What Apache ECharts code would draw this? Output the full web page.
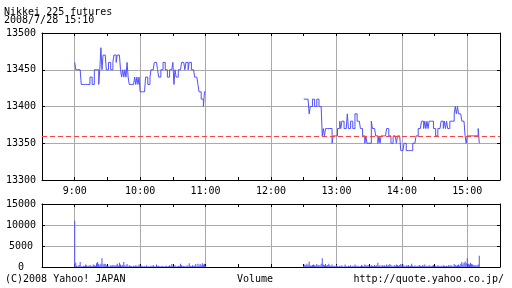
<!DOCTYPE html>
<html><head><meta charset="utf-8">
<script src="https://cdn.jsdelivr.net/npm/echarts@6/dist/echarts.min.js"></script>
<style>html,body{margin:0;padding:0;background:#fff}#c{width:512px;height:288px}</style>
</head><body><div id="c"></div>
<script>
// Minutes of day where each session's per-minute series starts
var amStart = 540;   // 9:00
var pmStart = 750;   // 12:30
var priceTicks = [13300, 13350, 13400, 13450, 13500];
var volTicks = [0, 5000, 10000, 15000];
var prevClose = 13360;

var amPrice = [13460,
 13450,13450,13450,13450,13450,
 13430,13430,13430,13430,13430,13430,13430,13430,
 13440,13440,13430,13430,
 13450,13450,13450,13450,
 13430,13450,13480,13450,
 13470,13470,13470,13450,13450,13460,13460,13450,13450,13460,
 13470,13470,13460,13470,13470,13470,
 13450,13440,13450,13440,13450,13440,13460,13440,
 13430,13430,13430,13430,13430,
 13440,13430,13440,13430,13440,
 13420,13420,13420,13420,13420,
 13440,13440,13430,13430,13440,
 13450,13450,13450,13460,13460,13460,13450,13440,13440,
 13450,13450,13460,13460,13450,13450,13440,13440,
 13450,13450,13450,13460,13430,13450,13440,13440,
 13450,13450,13450,13460,13460,13460,13450,13460,13460,13450,13460,13460,
 13450,13450,13450,13440,13440,13440,13430,13420,13420,13410,13410,13400,13420,13420];

var pmPrice = [13410,13410,13410,13410,13410,
 13390,13400,13400,13410,13410,13400,13400,13410,13410,13400,13400,13400,
 13360,13370,13360,13370,13370,13370,13370,13370,13370,
 13350,13360,13360,13360,13360,
 13370,13370,13380,13370,13380,13380,13370,13370,13370,
 13390,13370,13370,13380,13380,13370,13370,13390,13390,
 13380,13380,13380,13370,13370,13360,13360,13350,13360,
 13350,13350,13350,13350,
 13380,13370,13370,13370,13360,13360,13350,13360,13350,
 13360,13360,13360,13360,13360,13370,13370,13360,13360,
 13350,13350,13360,13360,13360,13350,13360,13360,13360,
 13340,13340,13340,13350,13350,13340,13340,13340,13340,13340,13340,
 13350,13350,13350,13360,13360,13370,13370,13370,13380,13380,
 13370,13380,13370,13380,13370,13380,13380,13380,13380,13370,13370,
 13360,13360,13370,13370,13370,13380,13380,13370,13380,13370,13380,13370,13370,
 13380,13380,13380,13380,13390,13400,13390,13400,13390,13390,13390,
 13380,13380,13380,13360,13350,
 13360,13360,13360,13360,13360,13360,13360,13360,13360,13360,13370,13350];

var amVol = [11000,1000,300,200,500,1200,200,100,300,200,600,400,200,300,500,300,200,600,400,300,
 900,1200,700,400,800,2100,600,800,700,400,300,200,100,400,300,500,400,300,500,800,
 300,1000,600,300,500,1200,400,300,700,200,400,300,200,100,300,200,400,300,200,600,
 400,300,200,100,200,100,400,100,200,100,300,200,500,200,100,600,200,300,200,100,
 300,200,100,200,300,100,200,400,200,700,300,200,400,100,200,300,200,800,400,200,
 300,200,100,400,200,900,300,200,400,200,300,700,200,800,300,700,400,900,600,800,300];

var pmVol = [300,600,400,800,500,1300,400,300,500,600,400,300,700,400,500,300,800,2100,600,400,
 700,300,500,800,400,300,600,200,300,200,500,200,100,300,200,400,100,200,600,200,
 100,300,200,400,100,300,200,600,300,200,300,100,200,500,300,200,600,400,300,500,
 200,300,400,300,200,500,300,400,1000,300,400,200,500,300,400,200,600,300,500,700,
 400,300,200,500,300,600,400,300,500,700,400,600,300,200,400,300,500,200,300,800,
 300,200,400,200,300,200,500,300,200,400,300,600,200,300,200,400,300,200,300,500,
 200,300,200,400,300,200,300,200,400,300,200,300,200,500,300,400,300,200,700,500,
 300,400,600,300,800,1200,600,1000,1300,900,2100,800,600,1000,700,600,400,500,300,400,
 600,2700];

function pairs(start, arr){ return arr.map(function(v,i){ return [start+i, v]; }); }

var FONT = 'DejaVu Sans Mono';
var BLUE = '#5050ff';
var GRID = '#aaaaaa';
var txt = {fontFamily: FONT, fontSize: 10, color: '#000', fontWeight: 'normal'};

function xAx(grid, pos, labels){
  return {
    type:'value', gridIndex:grid, position:pos, min:510, max:930, interval:30,
    axisLine:{show:true, onZero:false, lineStyle:{color:'#000', width:1}},
    axisTick:{show:true, inside:true, length:3, lineStyle:{color:'#000'}},
    axisLabel:{show:labels, margin:6, fontFamily:FONT, fontSize:10, color:'#000',
      formatter:function(v){ return v%60===0 ? (v/60)+':00' : ''; }},
    splitLine:{show:pos==='bottom', showMinLine:false, showMaxLine:false,
      lineStyle:{color:[GRID, 'rgba(0,0,0,0)'], width:1}}
  };
}
function yAx(grid, pos, min, max, interval, labels){
  return {
    type:'value', gridIndex:grid, position:pos, min:min, max:max, interval:interval,
    axisLine:{show:true, lineStyle:{color:'#000', width:1}},
    axisTick:{show:true, inside:true, length:3, lineStyle:{color:'#000'}},
    axisLabel:{show:labels, margin:21, align:'center', fontFamily:FONT, fontSize:10, color:'#000',
      formatter:function(v){ return String(v); }},
    splitLine:{show:pos==='left', showMinLine:false, showMaxLine:false, lineStyle:{color:GRID, width:1}}
  };
}

var chart = echarts.init(document.getElementById('c'), null, {renderer:'canvas'});
chart.setOption({
  animation:false,
  backgroundColor:'#fff',
  title:[
    {text:'Nikkei 225 futures', left:4, top:7, padding:0, textStyle:txt},
    {text:'2008/7/28 15:10', left:4, top:15.5, padding:0, textStyle:txt},
    {text:'(C)2008 Yahoo! JAPAN', left:5, top:274, padding:0, textStyle:txt},
    {text:'Volume', left:237, top:274, padding:0, textStyle:txt},
    {text:'http://quote.yahoo.co.jp/', right:8, top:274, padding:0, textStyle:txt}
  ],
  grid:[
    {left:42, right:12, top:33, height:147},
    {left:42, right:12, top:204, height:63}
  ],
  xAxis:[ xAx(0,'bottom',true), xAx(0,'top',false), xAx(1,'bottom',false), xAx(1,'top',false) ],
  yAxis:[ yAx(0,'left',13300,13500,50,true), yAx(0,'right',13300,13500,50,false),
          yAx(1,'left',0,15000,5000,true), yAx(1,'right',0,15000,5000,false) ],
  series:[
    {type:'line', xAxisIndex:0, yAxisIndex:0, step:'end', showSymbol:false, data:pairs(amStart, amPrice),
     lineStyle:{color:BLUE, width:1}, itemStyle:{color:BLUE},
     markLine:{silent:true, symbol:'none', label:{show:false},
       lineStyle:{color:'#ff4040', type:[5,3], width:1}, data:[{yAxis:prevClose}]}},
    {type:'line', xAxisIndex:0, yAxisIndex:0, step:'end', showSymbol:false, data:pairs(pmStart, pmPrice),
     lineStyle:{color:BLUE, width:1}, itemStyle:{color:BLUE}},
    {type:'bar', xAxisIndex:2, yAxisIndex:2, barWidth:1, data:pairs(amStart, amVol), itemStyle:{color:BLUE}},
    {type:'bar', xAxisIndex:2, yAxisIndex:2, barWidth:1, barGap:'-100%', data:pairs(pmStart, pmVol), itemStyle:{color:BLUE}}
  ]
});
</script></body></html>
